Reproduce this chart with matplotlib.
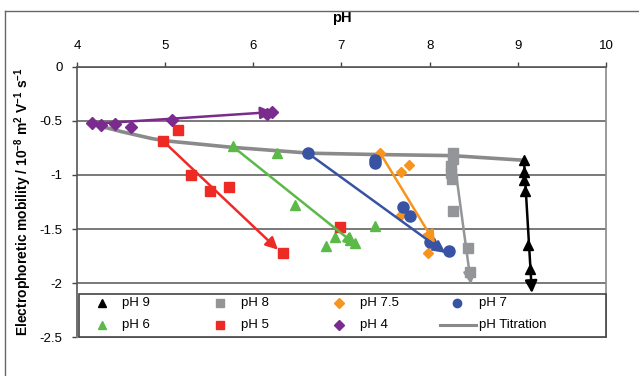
import matplotlib
matplotlib.use('Agg')
import matplotlib.pyplot as plt
from matplotlib.lines import Line2D
from matplotlib.patches import Rectangle

plt.rcParams['font.family'] = ['Liberation Sans', 'DejaVu Sans']
plt.rcParams['axes.unicode_minus'] = False
plt.rcParams['mathtext.fontset'] = 'custom'
plt.rcParams['mathtext.bf'] = 'Liberation Sans:bold'
plt.rcParams['mathtext.rm'] = 'Liberation Sans:bold'
plt.rcParams['mathtext.default'] = 'bf'

# pH titration curve
titr_ph = [4.17, 4.5, 4.85, 5.0, 5.75, 6.65, 7.4, 8.25, 9.07]
titr_mob = [-0.53, -0.6, -0.665, -0.685, -0.745, -0.80, -0.812, -0.822, -0.865]

# measured series (pH reading, mobility)
ph9_x = [9.07, 9.07, 9.07, 9.08, 9.12, 9.14]
ph9_y = [-0.86, -0.97, -1.05, -1.15, -1.65, -1.87]
ph8_x = [8.26, 8.26, 8.24, 8.24, 8.25, 8.27, 8.43, 8.46]
ph8_y = [-0.80, -0.85, -0.92, -0.98, -1.04, -1.33, -1.67, -1.90]
ph75_x = [7.44, 7.68, 7.77, 7.68, 8.0, 7.98]
ph75_y = [-0.80, -0.97, -0.91, -1.37, -1.62, -1.72]
ph7_x = [6.62, 7.38, 7.38, 7.70, 7.78, 8.0, 8.22]
ph7_y = [-0.80, -0.86, -0.89, -1.30, -1.38, -1.62, -1.70]
ph6_x = [5.77, 6.27, 6.47, 6.82, 6.93, 7.10, 7.15, 7.38]
ph6_y = [-0.73, -0.80, -1.28, -1.66, -1.57, -1.60, -1.63, -1.47]
ph5_x = [4.98, 5.14, 5.29, 5.51, 5.72, 6.98, 6.34]
ph5_y = [-0.685, -0.585, -1.0, -1.15, -1.11, -1.48, -1.72]
ph4_x = [4.17, 4.27, 4.43, 4.61, 5.08, 6.15, 6.21]
ph4_y = [-0.52, -0.54, -0.53, -0.56, -0.495, -0.44, -0.42]

# trajectory arrows: (start, end)
arrow_start = {'9': (9.07, -0.86), '8': (8.27, -0.81), '7.5': (7.44, -0.80),
               '7': (6.62, -0.80), '6': (5.77, -0.74), '5': (4.98, -0.69),
               '4': (4.17, -0.53)}
arrow_end = {'9': (9.16, -2.09), '8': (8.47, -2.01), '7.5': (8.06, -1.63),
             '7': (8.18, -1.72), '6': (7.17, -1.65), '5': (6.28, -1.69),
             '4': (6.22, -0.42)}

colors = {'9': '#000000', '8': '#939598', '7.5': '#f7941d', '7': '#3953a4',
          '6': '#5bba47', '5': '#ee2a24', '4': '#7b2a8d'}
markers = {'9': '^', '8': 's', '7.5': 'D', '7': 'o', '6': '^', '5': 's', '4': 'D'}
msize = {'9': 7.5, '8': 7, '7.5': 5.5, '7': 8, '6': 7.5, '5': 7, '4': 6}

series = {'9': (ph9_x, ph9_y), '8': (ph8_x, ph8_y), '7.5': (ph75_x, ph75_y),
          '7': (ph7_x, ph7_y), '6': (ph6_x, ph6_y), '5': (ph5_x, ph5_y),
          '4': (ph4_x, ph4_y)}

fig = plt.figure(figsize=(6.39, 3.76), dpi=100)
ax = fig.add_axes([0.1205, 0.1024, 0.8278, 0.7207])

ax.plot(titr_ph, titr_mob, color='#8a8a8a', lw=2.6, zorder=2, solid_capstyle='round')

for k, (xs, ys) in series.items():
    ax.plot(xs, ys, linestyle='none', marker=markers[k], ms=msize[k],
            color=colors[k], mec=colors[k], zorder=3)
    ax.annotate('', xy=arrow_end[k], xytext=arrow_start[k],
                arrowprops=dict(arrowstyle='-|>', color=colors[k], lw=1.8,
                                mutation_scale=18, shrinkA=0, shrinkB=0),
                zorder=4)

ax.set_xlim(4, 10)
ax.set_ylim(-2.5, 0)
ax.xaxis.tick_top()
ax.xaxis.set_label_position('top')
ax.set_xticks(range(4, 11))
ax.set_xticklabels([str(v) for v in range(4, 11)], fontsize=9.5)
yt = [0, -0.5, -1, -1.5, -2, -2.5]
ax.set_yticks(yt)
ax.set_yticklabels(['0', '-0.5', '-1', '-1.5', '-2', '-2.5'], fontsize=9.5)
ax.tick_params(direction='out', length=3.5, width=1, color='#444444', pad=7)
ax.yaxis.grid(True, color='#6e6e6e', lw=1.3)
ax.set_axisbelow(True)

for s in ['top', 'left']:
    ax.spines[s].set_color('#555555')
    ax.spines[s].set_linewidth(1.2)
for s in ['right', 'bottom']:
    ax.spines[s].set_color('#8a8a8a')
    ax.spines[s].set_linewidth(1.2)

ax.set_xlabel('pH', fontsize=10.5, fontweight='bold')
ax.xaxis.set_label_coords(0.5, 1.163)
ax.set_ylabel('Electrophoretic mobility / 10$^{-8}$ m$^{2}$ V$^{-1}$ s$^{-1}$',
              fontsize=10, fontweight='bold')
ax.yaxis.set_label_coords(-0.082, 0.5)

# legend box
ax.add_patch(Rectangle((0.004, 0.0), 0.996, 0.1605, transform=ax.transAxes,
                       facecolor='white', edgecolor='#444444', lw=1.2,
                       zorder=6, clip_on=False))
leg_entries = [('9', 'pH 9'), ('8', 'pH 8'), ('7.5', 'pH 7.5'), ('7', 'pH 7'),
               ('6', 'pH 6'), ('5', 'pH 5'), ('4', 'pH 4'), (None, 'pH Titration')]
col_mark = [0.0473, 0.2703, 0.4953, 0.7183]
col_text = [0.0851, 0.310, 0.535, 0.760]
row_y = [0.1273, 0.0461]
for i, (k, lab) in enumerate(leg_entries):
    r, c = divmod(i, 4)
    if k is None:
        ax.add_line(Line2D([0.686, 0.755], [row_y[r], row_y[r]], transform=ax.transAxes,
                           color='#8a8a8a', lw=2.2, zorder=7, clip_on=False))
    else:
        ax.add_line(Line2D([col_mark[c]], [row_y[r]], transform=ax.transAxes,
                           marker=markers[k], ms=6 if markers[k] != 'D' else 4.8,
                           color=colors[k], linestyle='none', zorder=7, clip_on=False))
    ax.text(col_text[c], row_y[r], lab, transform=ax.transAxes, fontsize=9.5,
            va='center', ha='left', zorder=7)

# outer frame (left and top edges)
fig.add_artist(Line2D([5 / 639, 5 / 639], [0, 1 - 11 / 376], color='#666666', lw=1))
fig.add_artist(Line2D([5 / 639, 1], [1 - 11 / 376, 1 - 11 / 376], color='#666666', lw=1))

plt.savefig('out.png', dpi=100)
